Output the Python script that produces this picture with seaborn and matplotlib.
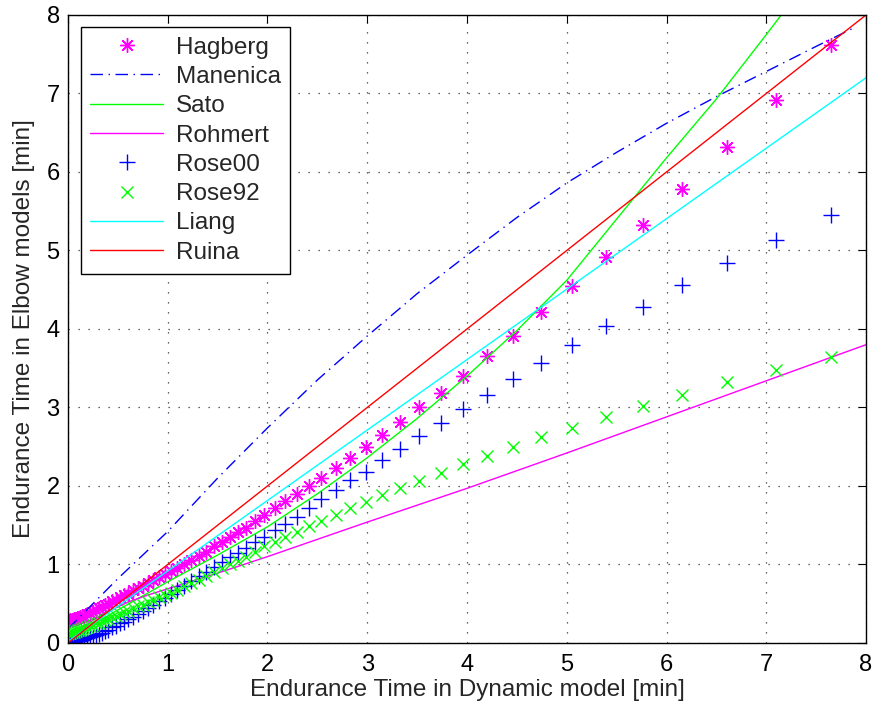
import numpy as np
import matplotlib
import matplotlib.pyplot as plt
import seaborn as sns

matplotlib.use('Agg')

# Endurance time in the dynamic model [min] (shared by the marker series)
x_dyn = [7.65, 7.10, 6.61, 6.16, 5.76, 5.39, 5.05, 4.74, 4.46, 4.20,
         3.96, 3.74, 3.52, 3.33, 3.15, 2.99, 2.83, 2.69, 2.54, 2.42,
         2.30, 2.18, 2.08, 1.97, 1.87, 1.78, 1.70, 1.62, 1.54, 1.46,
         1.38, 1.31, 1.23, 1.16, 1.09, 1.03, 0.97, 0.91, 0.85, 0.80,
         0.75, 0.70, 0.65, 0.60, 0.56, 0.52, 0.48, 0.44, 0.40, 0.37,
         0.34, 0.31, 0.28, 0.25, 0.22, 0.19, 0.16, 0.14, 0.12, 0.10,
         0.08, 0.06, 0.04, 0.02, 0.00]

hagberg = [7.62, 6.92, 6.32, 5.78, 5.32, 4.92, 4.55, 4.21, 3.91, 3.65,
           3.40, 3.19, 3.00, 2.81, 2.65, 2.50, 2.36, 2.23, 2.10, 2.00,
           1.90, 1.81, 1.72, 1.63, 1.55, 1.47, 1.41, 1.35, 1.28, 1.23,
           1.16, 1.11, 1.06, 1.01, 0.96, 0.92, 0.88, 0.84, 0.80, 0.77,
           0.73, 0.70, 0.67, 0.63, 0.61, 0.58, 0.55, 0.53, 0.50, 0.48,
           0.46, 0.44, 0.42, 0.40, 0.38, 0.37, 0.35, 0.34, 0.33, 0.32,
           0.31, 0.30, 0.29, 0.29, 0.28]

rose00 = [5.45, 5.13, 4.84, 4.56, 4.28, 4.04, 3.80, 3.57, 3.36, 3.16,
          2.98, 2.80, 2.64, 2.47, 2.33, 2.18, 2.07, 1.95, 1.83, 1.72,
          1.61, 1.52, 1.44, 1.35, 1.28, 1.21, 1.14, 1.09, 1.03, 0.97,
          0.91, 0.85, 0.79, 0.73, 0.67, 0.62, 0.57, 0.53, 0.48, 0.44,
          0.41, 0.37, 0.33, 0.30, 0.27, 0.25, 0.22, 0.20, 0.17, 0.15,
          0.13, 0.12, 0.10, 0.09, 0.07, 0.06, 0.05, 0.04, 0.03, 0.03,
          0.02, 0.01, 0.01, 0.00, 0.00]

rose92 = [3.64, 3.48, 3.32, 3.16, 3.02, 2.88, 2.74, 2.62, 2.50, 2.38,
          2.28, 2.17, 2.06, 1.97, 1.885, 1.80, 1.72, 1.63, 1.56, 1.49,
          1.42, 1.35, 1.29, 1.23, 1.16, 1.10, 1.05, 1.00, 0.95, 0.90,
          0.85, 0.80, 0.76, 0.72, 0.68, 0.64, 0.61, 0.58, 0.55, 0.52,
          0.49, 0.47, 0.44, 0.41, 0.39, 0.37, 0.35, 0.33, 0.31, 0.29,
          0.28, 0.26, 0.25, 0.23, 0.22, 0.20, 0.19, 0.18, 0.17, 0.16,
          0.15, 0.14, 0.14, 0.13, 0.13]

# curve models
manenica_x = [0.0, 0.25, 0.5, 1.0, 1.5, 2.0, 2.5, 3.0, 3.5, 4.0, 4.5, 5.0, 5.5, 6.0, 6.5, 7.0, 7.5, 7.9]
manenica_y = [0.18, 0.50, 0.82, 1.42, 2.10, 2.74, 3.35, 3.91, 4.45, 4.94, 5.42, 5.86, 6.25, 6.62, 6.96, 7.28, 7.60, 7.85]

sato_x = [0.0, 0.5, 1.0, 1.5, 2.0, 2.5, 3.0, 3.5, 4.0, 4.5, 5.0, 5.5, 6.0, 6.5, 7.0, 7.3]
sato_y = [0.05, 0.42, 0.78, 1.12, 1.48, 1.90, 2.36, 2.86, 3.40, 3.98, 4.62, 5.40, 6.18, 6.93, 7.75, 8.25]

rohmert_x = [0.0, 0.2, 0.4, 0.6, 0.8, 1.0, 1.5, 2.0, 2.5, 3.0, 4.0, 5.0, 6.0, 7.0, 8.0]
rohmert_y = [0.05, 0.25, 0.40, 0.52, 0.61, 0.69, 0.89, 1.10, 1.32, 1.54, 1.97, 2.42, 2.88, 3.34, 3.80]

liang_x = [0.0, 8.0]
liang_y = [0.02, 7.20]

ruina_x = [0.0, 8.0]
ruina_y = [0.0, 8.0]

sns.set_style("white")
plt.rcParams['font.family'] = ['Liberation Sans', 'DejaVu Sans']

fig, ax = plt.subplots(figsize=(8.76, 7.10), dpi=100)
fig.subplots_adjust(left=0.0776, right=0.9886, bottom=0.0944, top=0.9789)

asterisk = (8, 2, 0)
common = dict(estimator=None, sort=False, ax=ax)

sns.lineplot(x=x_dyn, y=hagberg, linestyle='', marker=asterisk, markersize=10.5,
             color='#ff00ff', markeredgecolor='#ff00ff', markeredgewidth=1.0,
             label='Hagberg', **common)
sns.lineplot(x=manenica_x, y=manenica_y, color='#0000ff', linewidth=1.0,
             dashes=(9, 4, 1, 4), label='Manenica', **common)
sns.lineplot(x=sato_x, y=sato_y, color='#00ff00', linewidth=1.0,
             label='Sato', **common)
sns.lineplot(x=rohmert_x, y=rohmert_y, color='#ff00ff', linewidth=1.0,
             label='Rohmert', **common)
sns.lineplot(x=x_dyn, y=rose00, linestyle='', marker='+', markersize=12,
             color='#0000ff', markeredgecolor='#0000ff', markeredgewidth=1.0,
             label='Rose00', **common)
sns.lineplot(x=x_dyn, y=rose92, linestyle='', marker='x', markersize=9,
             color='#00ff00', markeredgecolor='#00ff00', markeredgewidth=1.0,
             label='Rose92', **common)
sns.lineplot(x=liang_x, y=liang_y, color='#00ffff', linewidth=1.0,
             label='Liang', **common)
sns.lineplot(x=ruina_x, y=ruina_y, color='#ff0000', linewidth=1.0,
             label='Ruina', **common)

ax.set_xlim(0, 8)
ax.set_ylim(0, 8)
ax.set_xticks(range(0, 9))
ax.set_yticks(range(0, 9))
ax.tick_params(direction='in', length=6, width=0.8, top=True, right=True,
               labelsize=17, pad=6, colors='black')
ax.tick_params(axis='x', pad=8)
ax.grid(True, color='black', linestyle=(0, (1, 7)), linewidth=0.9, alpha=0.8)

for spine in ax.spines.values():
    spine.set_visible(True)
    spine.set_color('black')
    spine.set_linewidth(1.0)

ax.set_xlabel("Endurance Time in Dynamic model [min]", fontsize=17.5, labelpad=2)
ax.set_ylabel("Endurance Time in Elbow models [min]", fontsize=17.5, labelpad=8)

leg = ax.legend(loc='upper left', bbox_to_anchor=(0.016, 0.981), fontsize=17.5,
                frameon=True, fancybox=False, edgecolor='black',
                handlelength=3.0, labelspacing=0.3, borderpad=0.4,
                handletextpad=0.5, borderaxespad=0.0)
leg.get_frame().set_linewidth(1.0)
leg.get_frame().set_alpha(1.0)

plt.savefig("out.png", dpi=100)
plt.close()
